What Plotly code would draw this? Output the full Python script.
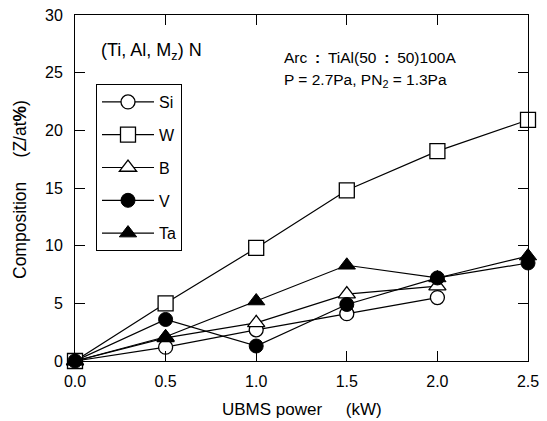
import plotly.graph_objects as go

power = [0.0, 0.5, 1.0, 1.5, 2.0, 2.5]
si = [0.0, 1.2, 2.7, 4.1, 5.5]
w = [0.0, 5.0, 9.8, 14.8, 18.2, 20.9]
b = [0.0, 2.0, 3.3, 5.8, 6.5]
v = [0.0, 3.6, 1.3, 4.9, 7.2, 8.5]
ta = [0.0, 2.1, 5.2, 8.3, 7.2, 9.1]
x_ticks = ["0.0", "0.5", "1.0", "1.5", "2.0", "2.5"]
y_ticks = [0, 5, 10, 15, 20, 25, 30]

FONT = "Liberation Sans, Arial, sans-serif"

series = [
    ("Si", si, dict(symbol="circle", size=14, color="white", line=dict(width=1.3, color="black"))),
    ("W", w, dict(symbol="square", size=15, color="white", line=dict(width=1.3, color="black"))),
    ("B", b, dict(symbol="triangle-up", size=15, color="white", line=dict(width=1.3, color="black"))),
    ("V", v, dict(symbol="circle", size=14, color="black", line=dict(width=1, color="black"))),
    ("Ta", ta, dict(symbol="triangle-up", size=15, color="black", line=dict(width=1, color="black"))),
]

fig = go.Figure()
for name, vals, mk in series:
    fig.add_trace(go.Scatter(
        x=power[:len(vals)], y=vals, name=name, mode="lines+markers", legendgroup=name,
        line=dict(color="black", width=1.2), marker=mk, cliponaxis=False,
    ))

pl, pr, pt, pb = 75, 528, 15, 361

def px(xp):
    return (xp - pl) / (pr - pl)

def py(yp):
    return (pb - yp) / (pb - pt)

ES = "\u2002"
SP = "\u00a0"

fig.update_layout(
    width=547, height=421,
    margin=dict(l=pl, r=547 - pr, t=pt, b=421 - pb, autoexpand=False),
    paper_bgcolor="white", plot_bgcolor="white",
    font=dict(family=FONT, size=16, color="black"),
    showlegend=True,
    legend=dict(
        x=px(96), y=py(84), xanchor="left", yanchor="top",
        bordercolor="black", borderwidth=1, bgcolor="white",
        font=dict(family=FONT, size=16), itemwidth=52, tracegroupgap=9,
    ),
    xaxis=dict(
        range=[0, 2.5], tickvals=power, ticktext=x_ticks,
        ticks="inside", ticklen=10, tickwidth=1, tickcolor="black",
        showline=True, linecolor="black", linewidth=1, mirror="ticks",
        showgrid=False, zeroline=False, automargin=False, ticklabelstandoff=6,
        tickfont=dict(size=16),
    ),
    yaxis=dict(
        range=[0, 30], tickvals=y_ticks,
        ticks="inside", ticklen=10, tickwidth=1, tickcolor="black",
        showline=True, linecolor="black", linewidth=1, mirror="ticks",
        showgrid=False, zeroline=False, automargin=False, ticklabelstandoff=8,
        tickfont=dict(size=16),
    ),
    annotations=[
        dict(text="(Ti, Al, M<sub>z</sub>) N", x=px(99), y=py(52),
             xref="paper", yref="paper",
             showarrow=False, xanchor="left", yanchor="middle", font=dict(size=18)),
        dict(text="Arc" + ES + "<b>:</b>" + ES + "TiAl(50" + ES + "<b>:</b>" + ES + "50)100A",
             x=px(282), y=py(57), xref="paper", yref="paper",
             showarrow=False, xanchor="left", yanchor="middle", font=dict(size=15.5)),
        dict(text="P = 2.7Pa, PN<sub>2</sub> = 1.3Pa", x=px(282), y=py(80),
             xref="paper", yref="paper",
             showarrow=False, xanchor="left", yanchor="middle", font=dict(size=15.5)),
        dict(text="UBMS power" + SP * 5 + "(kW)", x=px(302), y=py(409),
             xref="paper", yref="paper",
             showarrow=False, xanchor="center", yanchor="middle", font=dict(size=17)),
        dict(text="Composition" + SP * 5 + "(Z/at<b>%</b>)", x=px(20), y=py(190),
             xref="paper", yref="paper", textangle=-90,
             showarrow=False, xanchor="center", yanchor="middle", font=dict(size=17.5)),
    ],
)

fig.write_html(
    "out.html",
    config={"displayModeBar": False},
    post_script="document.body.style.margin='0';document.body.style.overflow='hidden';",
)
